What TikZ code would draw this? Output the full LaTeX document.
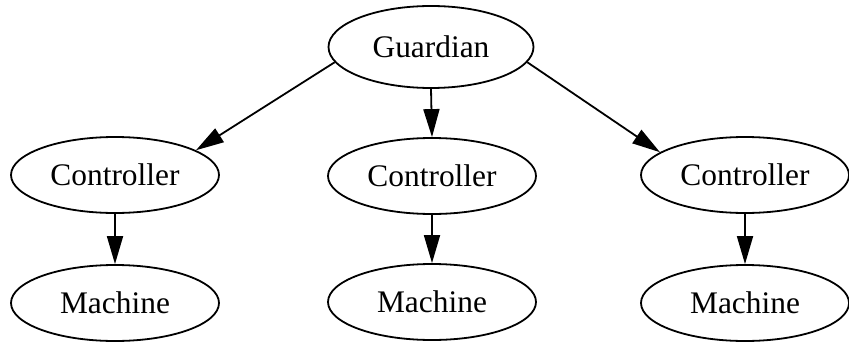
\documentclass[tikz,border=0pt]{standalone}
\usepackage{fontspec}
\setmainfont{Liberation Serif}
\usetikzlibrary{shapes.geometric,arrows.meta}

\tikzset{
  actor/.style={draw, ellipse, line width=0.9pt, inner sep=0pt,
    minimum width=104pt, minimum height=38pt,
    font=\fontsize{15.7}{19}\selectfont},
  sup/.style={->, line width=0.9pt, >={Triangle[length=14pt,width=8pt]}}
}

\begin{document}
\begin{tikzpicture}[x=0.5pt,y=-0.5pt]
\useasboundingbox (0,0) rectangle (849,342);

\node[actor, minimum width=102.5pt, minimum height=41pt] (guardian) at (431,47) {Guardian};
\node[actor] (ctrl-1) at (115,175) {Controller};
\node[actor] (ctrl-2) at (432,176) {Controller};
\node[actor] (ctrl-3) at (745,175) {Controller};
\node[actor] (mach-1) at (115,303) {Machine};
\node[actor] (mach-2) at (432,302) {Machine};
\node[actor] (mach-3) at (745,303) {Machine};

% guardian supervises the controllers
\path[sup] (guardian.189) edge (ctrl-1.17);
\path[sup] (guardian.270) edge (ctrl-2.north);
\path[sup] (guardian.351) edge (ctrl-3.165);

% each controller drives one machine
\path[sup] (ctrl-1.south) edge (mach-1.north);
\path[sup] (ctrl-2.south) edge (mach-2.north);
\path[sup] (ctrl-3.south) edge (mach-3.north);
\end{tikzpicture}
\end{document}
